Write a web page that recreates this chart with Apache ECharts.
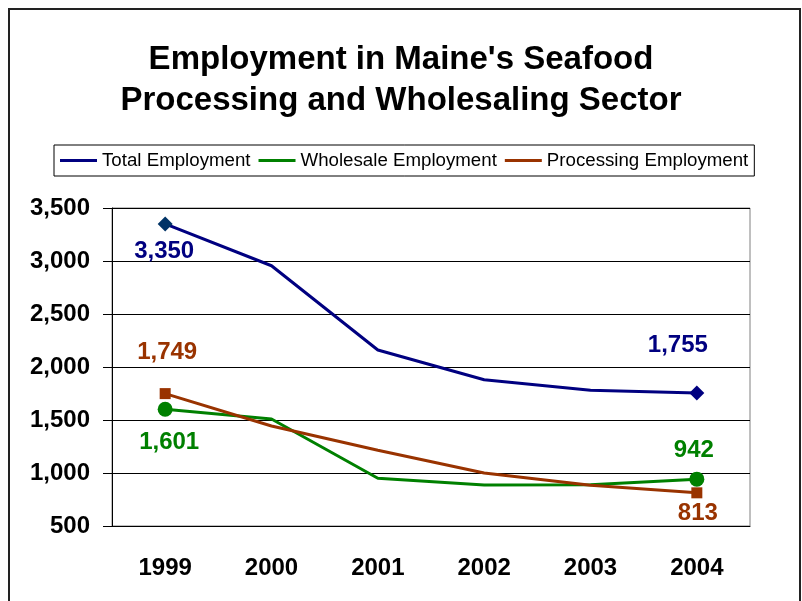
<!DOCTYPE html>
<html>
<head>
<meta charset="utf-8">
<script src="https://cdn.jsdelivr.net/npm/echarts@6/dist/echarts.min.js"></script>
<style>
  html, body { margin: 0; padding: 0; background: #fff; }
  #chart { width: 802px; height: 601px; }
</style>
</head>
<body>
<div id="chart"></div>
<script>
// data
const years = ['1999', '2000', '2001', '2002', '2003', '2004']
const totalEmp = [3350, 2955, 2160, 1880, 1780, 1755]
const wholesaleEmp = [1601, 1510, 950, 887, 888, 942]
const processingEmp = [1749, 1443, 1215, 1000, 885, 813]
const yTicks = [500, 1000, 1500, 2000, 2500, 3000, 3500]

const FONT = '"Liberation Sans", Arial, sans-serif'
const last = years.length - 1

// only the first and last points get a marker + label
const endPoints = (vals, symbol, offs, firstColor) => vals.map((v, i) => {
  if (i !== 0 && i !== last) return { value: v, symbol: 'none' }
  const item = {
    value: v,
    symbol: symbol,
    label: { show: true, offset: i === 0 ? offs[0] : offs[1] }
  }
  if (i === 0 && firstColor) item.itemStyle = { color: firstColor }
  return item
})

var chart = echarts.init(document.getElementById('chart'))

var option = {
  backgroundColor: '#fff',
  animation: false,
  title: {
    text: "Employment in Maine's Seafood\nProcessing and Wholesaling Sector",
    left: 'center',
    top: 39,
    padding: 0,
    textStyle: { fontFamily: FONT, fontSize: 33, fontWeight: 'bold', color: '#000', lineHeight: 41 }
  },
  legend: {
    top: 145,
    left: 54,
    padding: [6, 6],
    itemGap: 8,
    itemWidth: 37,
    itemHeight: 3,
    borderColor: '#000',
    borderWidth: 1,
    icon: 'rect',
    textStyle: { fontFamily: FONT, fontSize: 18.7, color: '#000' },
    data: ['Total Employment', 'Wholesale Employment', 'Processing Employment']
  },
  graphic: [{
    type: 'rect',
    shape: { x: 9, y: 9, width: 791, height: 620 },
    style: { fill: 'none', stroke: '#222', lineWidth: 2 },
    silent: true
  }],
  grid: {
    left: 112, right: 52, top: 208, bottom: 75,
    show: true, borderColor: '#808080', borderWidth: 1
  },
  xAxis: {
    type: 'category',
    data: years,
    axisLine: { lineStyle: { color: '#000', width: 1 } },
    axisTick: { length: 8, lineStyle: { color: '#000' } },
    axisLabel: { fontFamily: FONT, fontSize: 24, fontWeight: 'bold', color: '#000', margin: 30 }
  },
  yAxis: {
    type: 'value',
    min: yTicks[0],
    max: yTicks[yTicks.length - 1],
    interval: 500,
    axisLine: { show: true, lineStyle: { color: '#000', width: 1 } },
    axisTick: { show: true, length: 9, lineStyle: { color: '#000' } },
    splitLine: { lineStyle: { color: '#000', width: 1 } },
    axisLabel: {
      fontFamily: FONT, fontSize: 24, fontWeight: 'bold', color: '#000', margin: 22,
      formatter: v => v.toLocaleString('en-US')
    }
  },
  series: [
    {
      name: 'Total Employment',
      type: 'line',
      data: endPoints(totalEmp, 'diamond', [[-1, 27], [-19, -48]], '#003366'),
      symbolSize: 15,
      color: '#000080',
      itemStyle: { color: '#000080' },
      lineStyle: { width: 3, color: '#000080' },
      label: {
        position: 'inside', fontFamily: FONT, fontSize: 24, fontWeight: 'bold', color: '#000080',
        formatter: p => p.value.toLocaleString('en-US')
      },
      z: 3
    },
    {
      name: 'Wholesale Employment',
      type: 'line',
      data: endPoints(wholesaleEmp, 'circle', [[4, 33], [-3, -29]]),
      symbolSize: 15,
      color: '#008000',
      itemStyle: { color: '#008000' },
      lineStyle: { width: 3, color: '#008000' },
      label: {
        position: 'inside', fontFamily: FONT, fontSize: 24, fontWeight: 'bold', color: '#008000',
        formatter: p => p.value.toLocaleString('en-US')
      },
      z: 2
    },
    {
      name: 'Processing Employment',
      type: 'line',
      data: endPoints(processingEmp, 'rect', [[2, -41], [1, 21]]),
      symbolSize: 11,
      color: '#993300',
      itemStyle: { color: '#993300' },
      lineStyle: { width: 3, color: '#993300' },
      label: {
        position: 'inside', fontFamily: FONT, fontSize: 24, fontWeight: 'bold', color: '#993300',
        formatter: p => p.value.toLocaleString('en-US')
      },
      z: 2
    }
  ]
}

chart.setOption(option)
</script>
</body>
</html>
